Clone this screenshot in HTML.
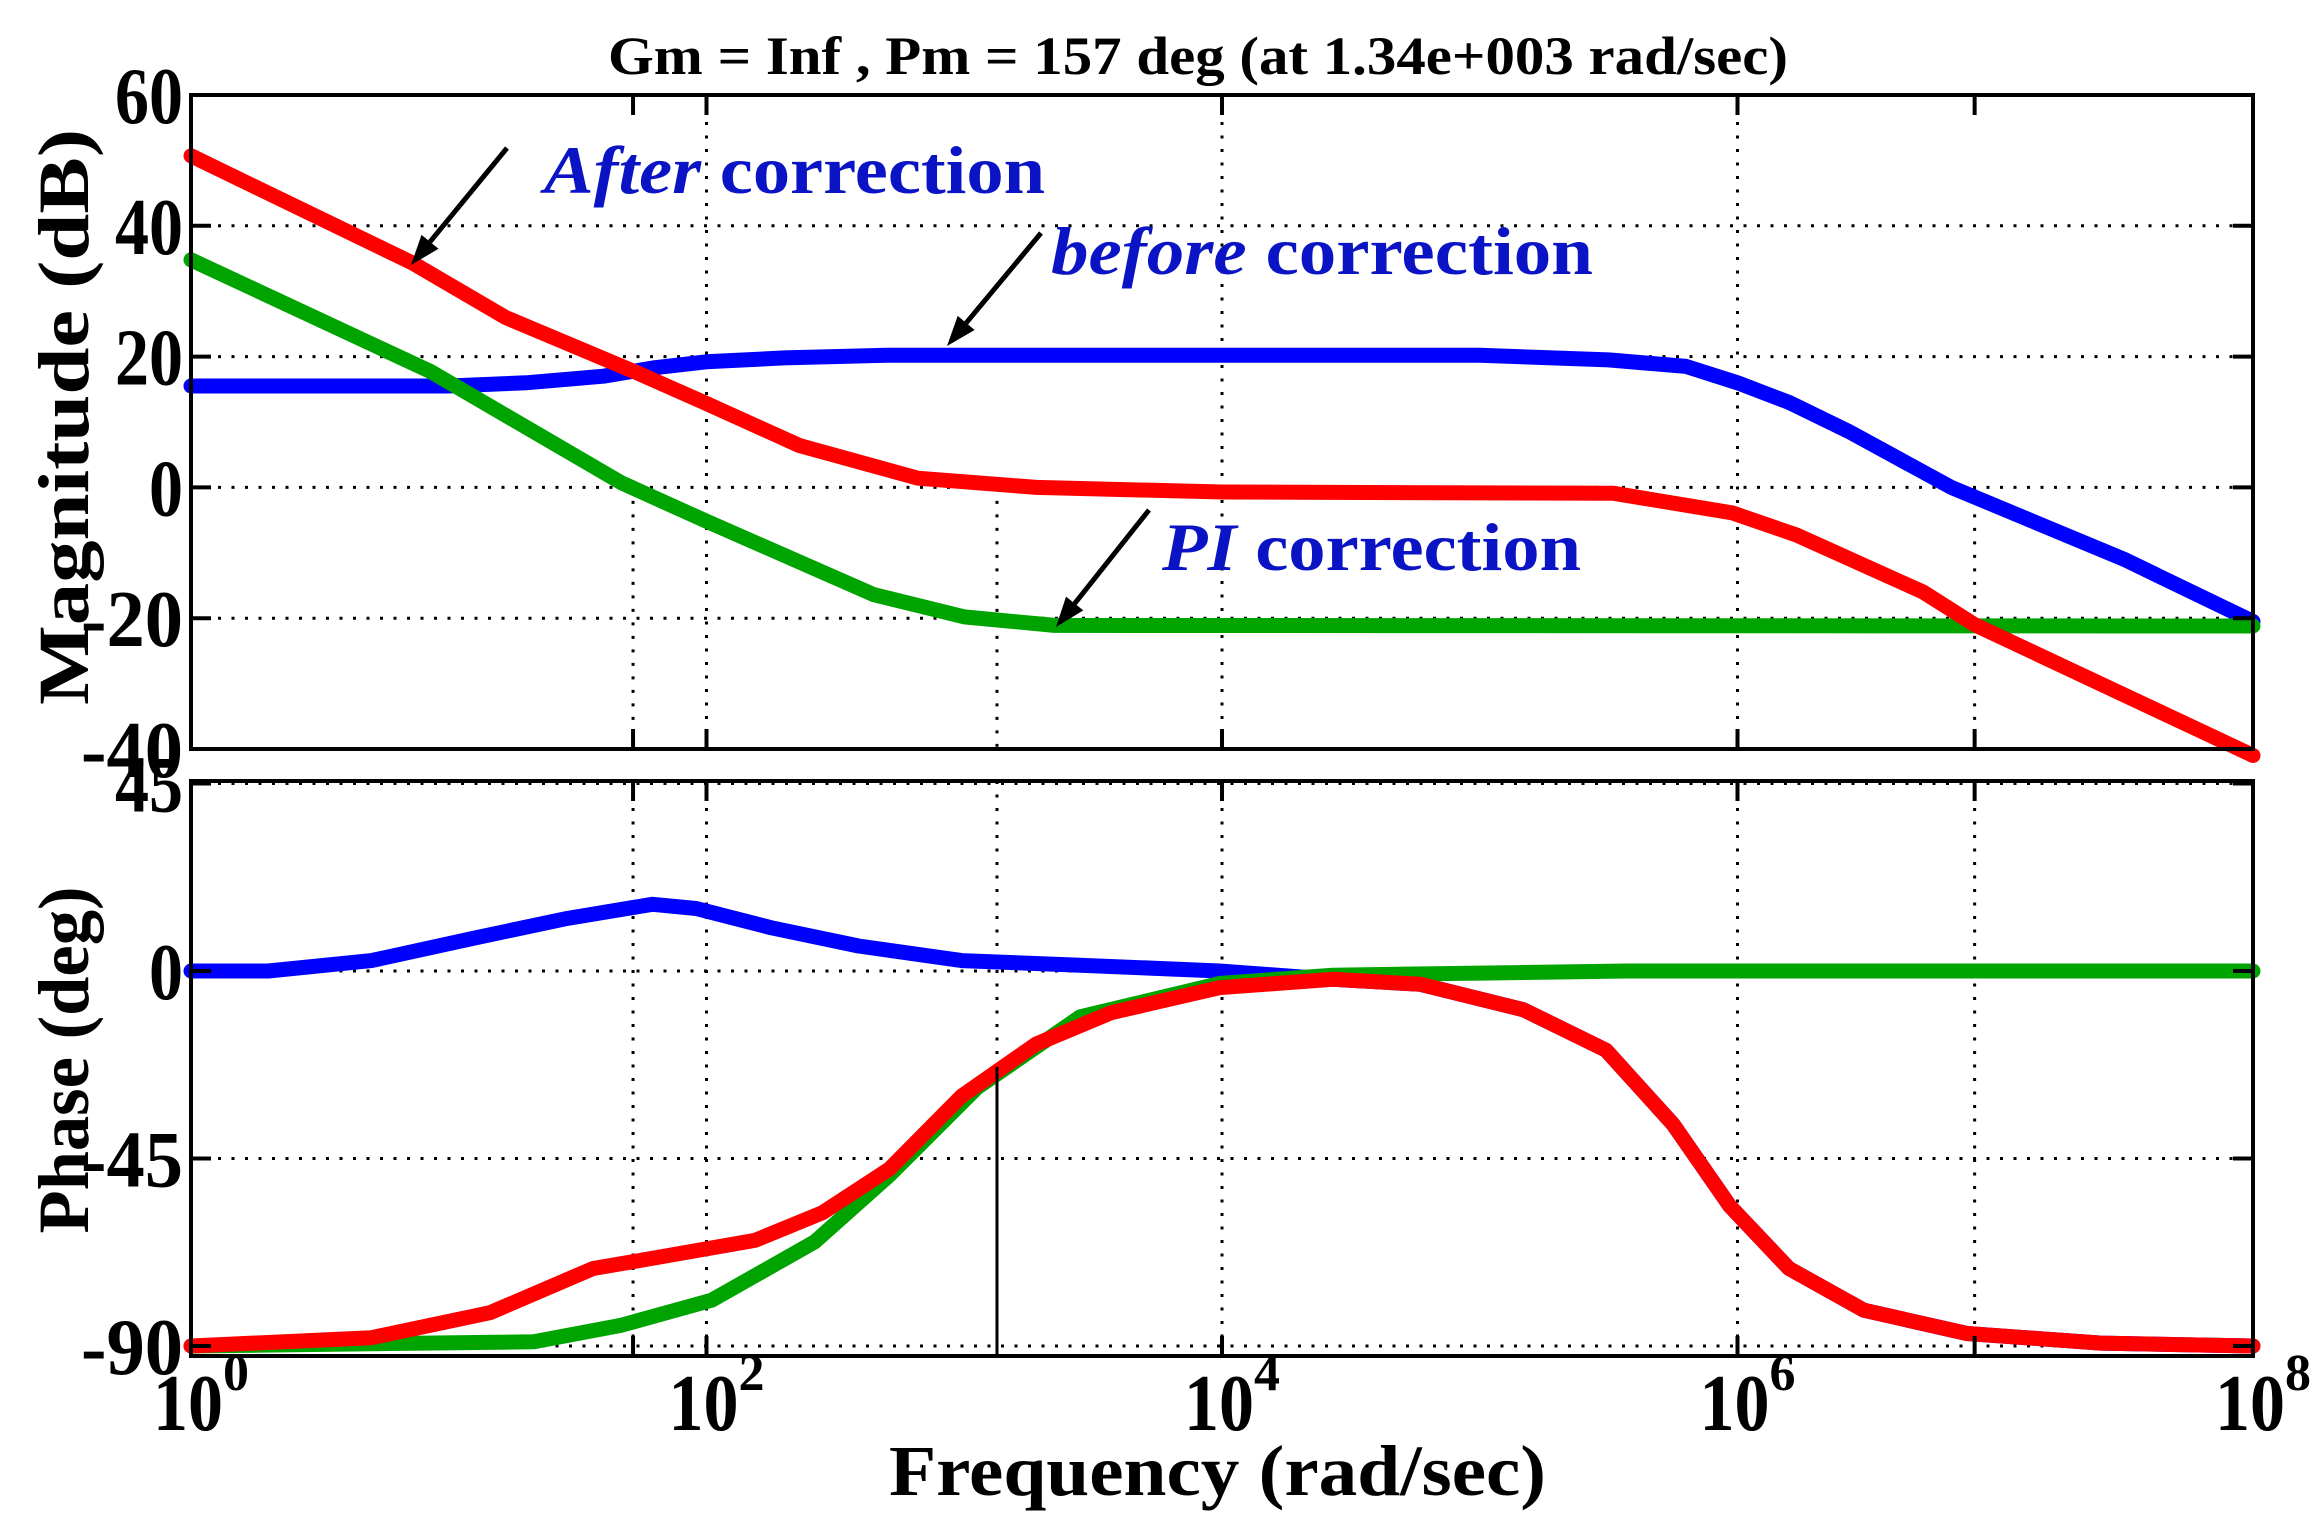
<!DOCTYPE html>
<html><head><meta charset="utf-8"><style>
html,body{margin:0;padding:0;background:#fff;}
svg{display:block;}
text{font-family:"Liberation Serif","Times New Roman",serif;font-weight:bold;}
</style></head><body>
<svg id="chart" width="2323" height="1535" viewBox="0 0 2323 1535" xmlns="http://www.w3.org/2000/svg">
<text x="1198" y="74" font-size="54" text-anchor="middle" textLength="1180" lengthAdjust="spacingAndGlyphs">Gm = Inf ,  Pm = 157 deg (at 1.34e+003 rad/sec)</text>
<g id="grid"></g>
<g id="series"></g>
<g id="axes"></g>
<g id="labels"></g>
<text transform="translate(88,417) rotate(-90)" font-size="72" text-anchor="middle" textLength="576" lengthAdjust="spacingAndGlyphs">Magnitude (dB)</text>
<text transform="translate(88,1060) rotate(-90)" font-size="72" text-anchor="middle" textLength="347" lengthAdjust="spacingAndGlyphs">Phase (deg)</text>
<text x="889" y="1495" font-size="72" textLength="657" lengthAdjust="spacingAndGlyphs">Frequency  (rad/sec)</text>
<text x="544" y="193" font-size="68" fill="#0a14c4" textLength="501" lengthAdjust="spacingAndGlyphs"><tspan font-style="italic">After</tspan> correction</text>
<text x="1051" y="274" font-size="68" fill="#0a14c4" textLength="542" lengthAdjust="spacingAndGlyphs"><tspan font-style="italic">before</tspan> correction</text>
<text x="1162" y="570" font-size="68" fill="#0a14c4" textLength="419" lengthAdjust="spacingAndGlyphs"><tspan font-style="italic">PI</tspan> correction</text>
<g id="arrows"></g>
</svg>
<script>
// ---- data (x in log10 rad/sec) ----
const magTicks = [60, 40, 20, 0, -20, -40];
const phaseTicks = [45, 0, -45, -90];
const decadeTicks = [0, 2, 4, 6, 8];
const blueMagX = [0,1,1.3,1.6,1.8,2,2.3,2.7,5,5.5,5.8,6,6.2,6.43,6.83,7.5,8];
const blueMagY = [15.5,15.5,16,17,18.3,19.2,19.8,20.2,20.2,19.5,18.5,16,13,8.6,0,-11,-20.5];
const redMagX = [0,0.86,1.22,1.72,1.99,2.36,2.82,3.28,4,5.52,5.98,6.23,6.72,6.92,8];
const redMagY = [50.7,34.3,26,17.7,13,6.4,1.4,0,-0.7,-0.9,-3.9,-7.3,-16,-21,-41];
const greenMagX = [0,0.93,1.67,1.99,2.65,3,3.35,8];
const greenMagY = [34.8,17.7,0.7,-5,-16.4,-19.8,-21.1,-21.2];
const redPhX = [0,0.7,1.16,1.56,1.73,2.19,2.45,2.71,2.99,3.28,3.57,3.99,4.43,4.77,5.17,5.49,5.75,5.97,6.2,6.49,6.89,7.41,8];
const redPhY = [-90,-88,-82,-71.4,-69.6,-64.6,-58,-47.5,-30,-17.5,-10,-4,-2,-3.2,-9.3,-19,-36.8,-56.4,-71.4,-81.4,-87,-89.3,-90];
const bluePhX = [0,0.3,0.7,1.1,1.45,1.79,1.96,2.25,2.59,2.99,3.45,3.99,4.43,4.77,5.17,5.49,5.75,5.97,6.2,6.49,6.89,7.41,8];
const bluePhY = [0,0,2.5,7.9,12.5,16,15,10.4,6,2.5,1.4,0,-2,-3.2,-9.3,-19,-36.8,-56.4,-71.4,-81.4,-87,-89.3,-90];
const greenPhX = [0,1.33,1.67,2.02,2.42,2.71,3.05,3.45,3.99,4.43,5.57,8];
const greenPhY = [-90,-89,-85,-79,-65,-49,-28,-11,-3,-1,0,0];
const pmLogW = 3.127;
const pmPhase = -23;
const extraGridLogW = [1.715, 3.127, 6.92];

// ---- axis functions ----
const L=191,R=2253;
const X = v => L + v*(R-L)/8;
const YM = v => 95 + (60-v)*(749-95)/100;
const YP = v => 971 - v*(971-783.5)/45;
const NS='http://www.w3.org/2000/svg';
function mk(tag, attrs, parent){const e=document.createElementNS(NS,tag);for(const k in attrs)e.setAttribute(k,attrs[k]);parent.appendChild(e);return e;}
const grid=document.getElementById('grid'), series=document.getElementById('series'), axes=document.getElementById('axes'), labels=document.getElementById('labels'), arrows=document.getElementById('arrows');
const dot={stroke:'#000','stroke-width':3,'stroke-dasharray':'3 10.5',fill:'none'};

[40,20,0,-20].forEach(v=>{const l=mk('line',Object.assign({x1:L,x2:R,y1:YM(v),y2:YM(v)},dot),grid);

});
[2,4,6].forEach(v=>{const l=mk('line',Object.assign({x1:X(v),x2:X(v),y1:95,y2:749},dot),grid);

});
extraGridLogW.forEach(v=>{const l=mk('line',Object.assign({x1:X(v),x2:X(v),y1:YM(0),y2:749},dot),grid);

});
[45,0,-45,-90].forEach(v=>{const l=mk('line',Object.assign({x1:L,x2:R,y1:YP(v),y2:YP(v)},dot),grid);

});
[2,4,6].concat(extraGridLogW).forEach(v=>{const l=mk('line',Object.assign({x1:X(v),x2:X(v),y1:781,y2:1356},dot),grid);

});

function poly(xs,ys,yf,color,name){
  const pts=xs.map((x,i)=>X(x).toFixed(1)+','+yf(ys[i]).toFixed(1)).join(' ');
  const p=mk('polyline',{points:pts,fill:'none',stroke:color,'stroke-width':15,'stroke-linecap':'round','stroke-linejoin':'round'},series);
  
  
}
poly(bluePhX,bluePhY,YP,'#0000ff','before-phase-line');
poly(greenPhX,greenPhY,YP,'#00a400','pi-phase-line');
poly(redPhX,redPhY,YP,'#ff0000','after-phase-line');
poly(blueMagX,blueMagY,YM,'#0000ff','before-magnitude-line');
poly(greenMagX,greenMagY,YM,'#00a400','pi-magnitude-line');
poly(redMagX,redMagY,YM,'#ff0000','after-magnitude-line');
const pm=mk('line',{x1:X(pmLogW),x2:X(pmLogW),y1:YP(pmPhase),y2:1356,stroke:'#000','stroke-width':3},series);



const b1=mk('rect',{x:L,y:95,width:R-L,height:749-95,fill:'none',stroke:'#000','stroke-width':4},axes);


const b2=mk('rect',{x:L,y:781,width:R-L,height:1356-781,fill:'none',stroke:'#000','stroke-width':4},axes);


function tickLabel(v,y,name){
 const s=String(v);
 const tx=mk('text',{x:183,y:y+28,'font-size':80,'text-anchor':'end',textLength:s.length*34,lengthAdjust:'spacingAndGlyphs'},labels);
 tx.textContent=s;
 
 
}
magTicks.forEach(v=>{[[L,L+20],[R,R-20]].forEach(s=>{const t=mk('line',{x1:s[0],x2:s[1],y1:YM(v),y2:YM(v),stroke:'#000','stroke-width':4},axes);

});
tickLabel(v,YM(v),'mag-tick-label');});
phaseTicks.forEach(v=>{[[L,L+20],[R,R-20]].forEach(s=>{const t=mk('line',{x1:s[0],x2:s[1],y1:YP(v),y2:YP(v),stroke:'#000','stroke-width':4},axes);

});
tickLabel(v,YP(v),'phase-tick-label');});
decadeTicks.concat(extraGridLogW.slice(0,1),extraGridLogW.slice(2)).forEach(v=>{
 [[749,729],[1356,1336],[95,115],[781,801]].forEach(s=>{const t=mk('line',{x1:X(v),x2:X(v),y1:s[0],y2:s[1],stroke:'#000','stroke-width':4},axes);
 
 });});
decadeTicks.forEach(v=>{
 const g=mk('text',{x:X(v)-38,y:1430,'font-size':80},labels);
 
 
 const b=mk('tspan',{textLength:70,lengthAdjust:'spacingAndGlyphs'},g); b.textContent='10';
 const s=mk('tspan',{dy:-40,'font-size':52},g); s.textContent=String(v);
});

const arrowDefs=[[507,148,411,265,'after-arrow'],[1041,233,947,346,'before-arrow'],[1149,510,1056,627,'pi-arrow']];
arrowDefs.forEach(a=>{
 const [x1,y1,x2,y2,n]=a; const ang=Math.atan2(y2-y1,x2-x1), h=30, w=11;
 const bx=x2-h*Math.cos(ang), by=y2-h*Math.sin(ang);
 const g=mk('g',{},arrows);
 
 
 mk('line',{x1:x1,y1:y1,x2:bx,y2:by,stroke:'#000','stroke-width':5},g);
 mk('polygon',{points:`${x2},${y2} ${bx+w*Math.sin(ang)},${by-w*Math.cos(ang)} ${bx-w*Math.sin(ang)},${by+w*Math.cos(ang)}`,fill:'#000'},g);
});
</script>
</body></html>
